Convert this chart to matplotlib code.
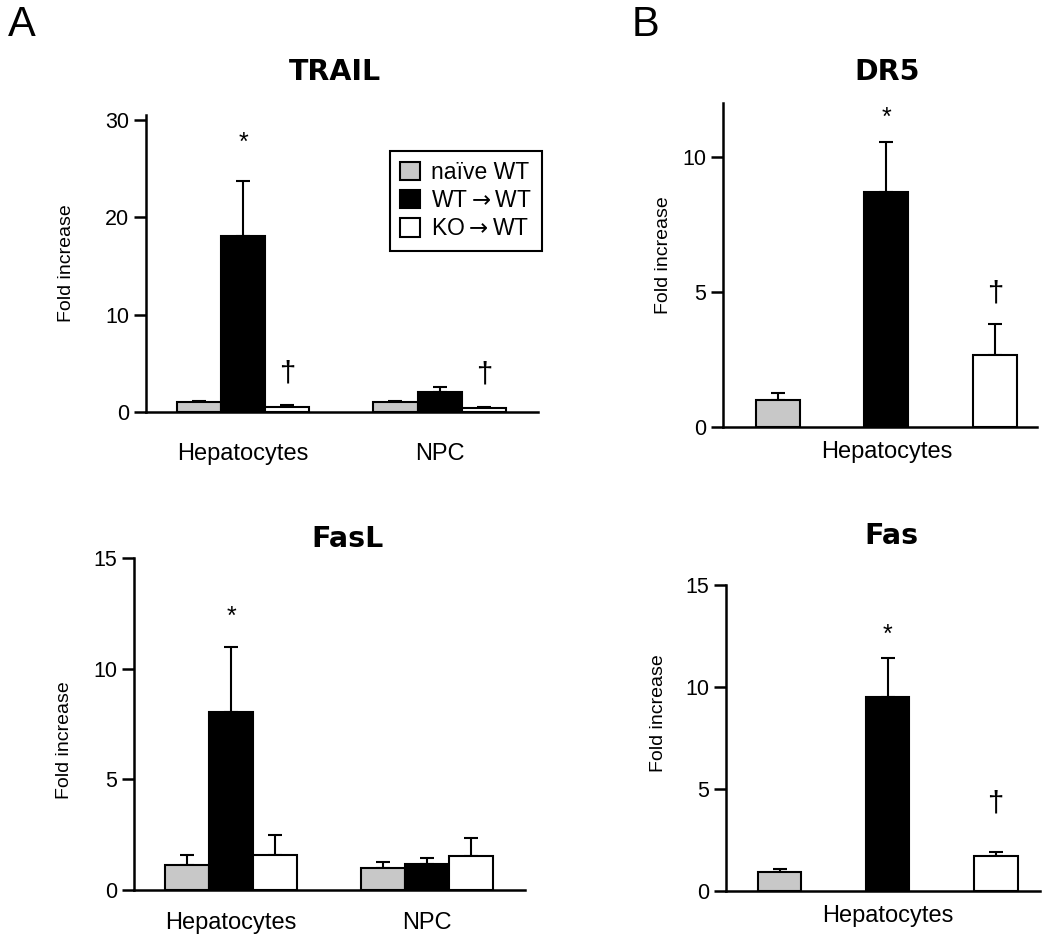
import matplotlib
matplotlib.use("Agg")
import matplotlib.pyplot as plt
import numpy as np
from matplotlib.patches import Patch

plt.rcParams['font.family'] = ['Liberation Sans', 'DejaVu Sans']
plt.rcParams['mathtext.fontset'] = 'dejavusans'

# ---------------- data ----------------
series_names = ["naïve WT", "WT$\\rightarrow$WT", "KO$\\rightarrow$WT"]
series_colors = ["#c8c8c8", "#000000", "#ffffff"]

trail_groups = ["Hepatocytes", "NPC"]
trail_naive = [1.0, 1.0]
trail_naive_err = [0.12, 0.12]
trail_wt = [18.1, 2.1]
trail_wt_err = [5.6, 0.5]
trail_ko = [0.5, 0.45]
trail_ko_err = [0.2, 0.1]

fasl_groups = ["Hepatocytes", "NPC"]
fasl_naive = [1.13, 1.0]
fasl_naive_err = [0.45, 0.27]
fasl_wt = [8.05, 1.17]
fasl_wt_err = [2.95, 0.28]
fasl_ko = [1.58, 1.53]
fasl_ko_err = [0.91, 0.82]

dr5_values = [1.0, 8.7, 2.67]
dr5_err = [0.26, 1.85, 1.13]

fas_values = [0.95, 9.5, 1.7]
fas_err = [0.15, 1.9, 0.2]

W, H = 1050, 939
fig = plt.figure(figsize=(W / 100, H / 100), dpi=100)


def rect(left, right, top, bottom):
    return [left / W, 1 - bottom / H, (right - left) / W, (bottom - top) / H]


def style_axes(ax, ylim, yticks):
    ax.set_ylim(*ylim)
    ax.set_yticks(yticks)
    for s in ("top", "right"):
        ax.spines[s].set_visible(False)
    for s in ("left", "bottom"):
        ax.spines[s].set_linewidth(1.8)
    ax.tick_params(axis="y", direction="out", length=9, width=1.8,
                   labelsize=15.5, pad=3)
    ax.tick_params(axis="x", length=0, labelsize=17)
    ax.set_ylabel("Fold increase", fontsize=14)


EDGE_LW = 1.5
ERR_KW = dict(ecolor="black", elinewidth=1.5, capsize=5, capthick=1.5)


def grouped_panel(ax, groups, vals, errs, width):
    x = np.arange(len(groups))
    offsets = [-width, 0, width]
    tops = []
    for v, e, off, c in zip(vals, errs, offsets, series_colors):
        ax.bar(x + off, v, width, color=c, edgecolor="black",
               linewidth=EDGE_LW, zorder=2)
        ax.errorbar(x + off, v, yerr=[np.zeros(len(v)), e], fmt="none",
                    zorder=1, **ERR_KW)
        tops.append((x + off, np.array(v) + np.array(e)))
    ax.set_xticks(x)
    ax.set_xticklabels(groups)
    return tops


def single_panel(ax, vals, errs, width):
    x = np.arange(len(vals))
    ax.bar(x, vals, width, color=series_colors, edgecolor="black",
           linewidth=EDGE_LW, zorder=2)
    ax.errorbar(x, vals, yerr=[np.zeros(len(vals)), errs], fmt="none",
                zorder=1, **ERR_KW)
    ax.set_xticks([1])
    ax.set_xticklabels(["Hepatocytes"])
    return x, np.array(vals) + np.array(errs)


def mark(ax, x, y, sym, off_px):
    size = 18 if sym == "*" else 21
    ax.annotate(sym, xy=(x, y), xytext=(0, off_px * 0.72),
                textcoords="offset points", ha="center", va="center",
                fontsize=size, annotation_clip=False)


# ---------- TRAIL ----------
ax1 = fig.add_axes(rect(146, 538, 115, 412))
tops = grouped_panel(ax1, trail_groups,
                     [trail_naive, trail_wt, trail_ko],
                     [trail_naive_err, trail_wt_err, trail_ko_err], 0.225)
ax1.set_xlim(-0.494, 1.5)
style_axes(ax1, (0, 30.5), [0, 10, 20, 30])
ax1.tick_params(axis="x", pad=22)
ax1.yaxis.set_label_coords(-0.182, 0.5)
mark(ax1, tops[1][0][0], tops[1][1][0], "*", 38)
mark(ax1, tops[2][0][0], tops[2][1][0], "\u2020", 32)
mark(ax1, tops[2][0][1], tops[2][1][1], "\u2020", 32)
handles = [Patch(facecolor=c, edgecolor="black", linewidth=1.5)
           for c in series_colors]
leg = ax1.legend(handles, series_names, loc="upper right",
                 bbox_to_anchor=(1.01, 0.879), borderaxespad=0,
                 fontsize=16.5, handlelength=0.85, handleheight=0.85,
                 handletextpad=0.5, labelspacing=0.22, borderpad=0.45,
                 fancybox=False, framealpha=1)
leg.get_frame().set_edgecolor("black")
leg.get_frame().set_linewidth(1.5)

# ---------- FasL ----------
ax3 = fig.add_axes(rect(134, 525, 558, 890))
tops = grouped_panel(ax3, fasl_groups,
                     [fasl_naive, fasl_wt, fasl_ko],
                     [fasl_naive_err, fasl_wt_err, fasl_ko_err], 0.225)
ax3.set_xlim(-0.495, 1.5)
style_axes(ax3, (0, 15), [0, 5, 10, 15])
ax3.tick_params(axis="x", pad=16)
ax3.yaxis.set_label_coords(-0.156, 0.45)
mark(ax3, tops[1][0][0], tops[1][1][0], "*", 30)

# ---------- DR5 ----------
ax2 = fig.add_axes(rect(723, 1037, 103, 427))
xs, tp = single_panel(ax2, dr5_values, dr5_err, 0.405)
ax2.set_xlim(-0.507, 2.39)
style_axes(ax2, (0, 12.0), [0, 5, 10])
ax2.tick_params(axis="x", pad=10)
ax2.yaxis.set_label_coords(-0.162, 0.53)
mark(ax2, xs[1], tp[1], "*", 24)
mark(ax2, xs[2], tp[2], "\u2020", 31)

# ---------- Fas ----------
ax4 = fig.add_axes(rect(726, 1040, 585, 891))
xs, tp = single_panel(ax4, fas_values, fas_err, 0.405)
ax4.set_xlim(-0.495, 2.41)
style_axes(ax4, (0, 15), [0, 5, 10, 15])
ax4.tick_params(axis="x", pad=10)
ax4.yaxis.set_label_coords(-0.188, 0.58)
mark(ax4, xs[1], tp[1], "*", 24)
mark(ax4, xs[2], tp[2], "\u2020", 49)

# ---------- titles and panel letters ----------
title_kw = dict(fontsize=20.5, fontweight="bold", family="DejaVu Sans",
                ha="center", va="center")
fig.text(335 / W, 1 - 72 / H, "TRAIL", **title_kw)
fig.text(887 / W, 1 - 72 / H, "DR5", **title_kw)
fig.text(347 / W, 1 - 539 / H, "FasL", **title_kw)
fig.text(891 / W, 1 - 536 / H, "Fas", **title_kw)
fig.text(8 / W, 1 - 36 / H, "A", fontsize=30, ha="left", va="baseline")
fig.text(632 / W, 1 - 36 / H, "B", fontsize=30, ha="left", va="baseline")

fig.savefig("out.png", dpi=100, facecolor="white")
